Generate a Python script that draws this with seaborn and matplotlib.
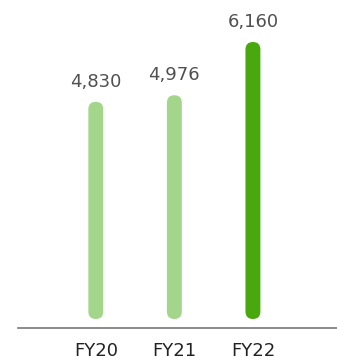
import matplotlib
matplotlib.use("Agg")
import matplotlib.pyplot as plt
from matplotlib.patches import FancyBboxPatch
import seaborn as sns
import pandas as pd

# Revenue by fiscal year
years = ["FY20", "FY21", "FY22"]
values = [4830, 4976, 6160]
bar_colors = ["#a3d68a", "#a3d68a", "#4aa80f"]

sns.set_style("white")
plt.rcParams["font.family"] = ["DejaVu Sans"]

df = pd.DataFrame({"year": years, "value": values})

fig = plt.figure(figsize=(3.37, 3.6), dpi=100)
ax = fig.add_axes([18 / 337, 32 / 360, 319 / 337, 328 / 360])

bar_w = 0.19
sns.barplot(data=df, x="year", y="value", hue="year", palette=bar_colors,
            width=bar_w, legend=False, ax=ax, saturation=1)

ax.set_xlim(-0.99, 3.07)
ax.set_ylim(-200, 7094)

# swap plain rectangles for capsule-shaped bars
fig.canvas.draw()
x_per_px = (ax.get_xlim()[1] - ax.get_xlim()[0]) / ax.bbox.width
y_per_px = (ax.get_ylim()[1] - ax.get_ylim()[0]) / ax.bbox.height
aspect = y_per_px / x_per_px
for p in list(ax.patches):
    x0, w, h = p.get_x(), p.get_width(), p.get_height()
    fc = p.get_facecolor()
    p.remove()
    ax.add_patch(FancyBboxPatch((x0, 0), w, h,
                                boxstyle=f"round,pad=0,rounding_size={w / 2}",
                                mutation_aspect=aspect, facecolor=fc,
                                edgecolor="none"))
    ax.annotate(f"{h:,.0f}", (x0 + w / 2, h), xytext=(0, 8),
                textcoords="offset points", ha="center", va="bottom",
                fontsize=13, color="#505050")

for s in ["top", "right", "left"]:
    ax.spines[s].set_visible(False)
ax.spines["bottom"].set_color("#777777")
ax.spines["bottom"].set_linewidth(1.2)
ax.set_yticks([])
ax.set_xlabel("")
ax.set_ylabel("")
ax.tick_params(axis="x", length=0, pad=10, labelsize=13, labelcolor="#222222")

fig.savefig("out.png", dpi=100)
